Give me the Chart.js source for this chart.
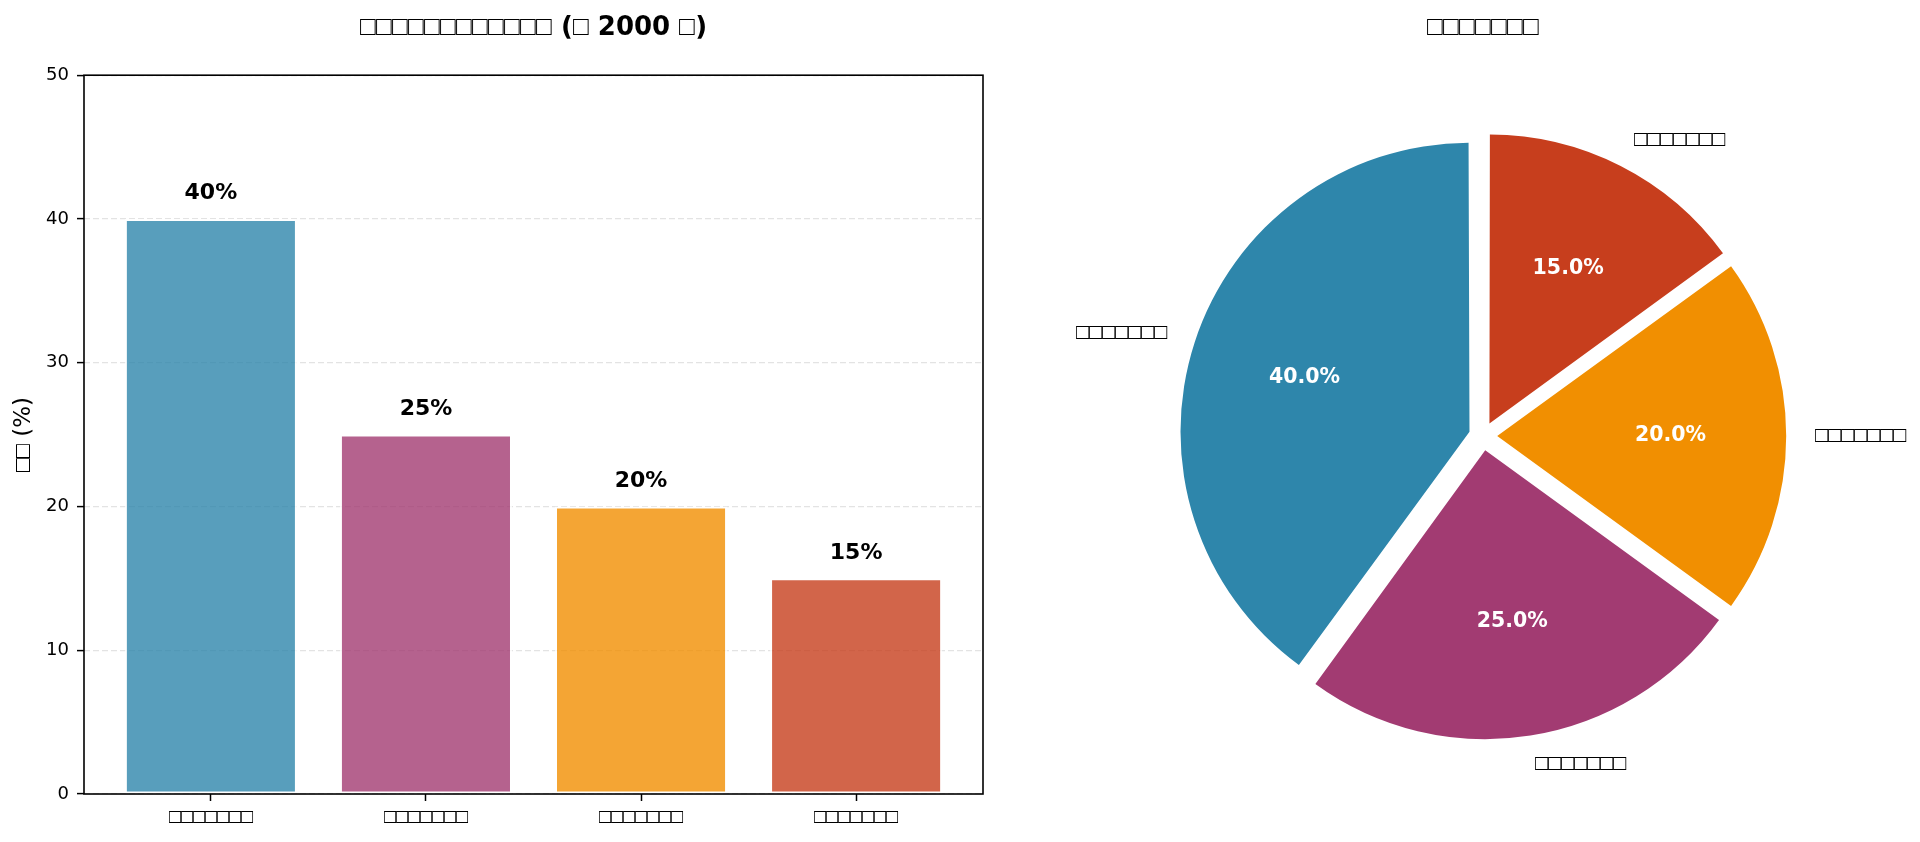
<!DOCTYPE html>
<html lang="zh">
<head>
<meta charset="utf-8">
<title>比例图</title>
<script src="https://cdn.jsdelivr.net/npm/chart.js@4.4.1/dist/chart.umd.min.js"></script>
<style>
  /* the boxes: take the narrow white square from Liberation Sans, everything else DejaVu */
  @font-face { font-family: 'Box'; src: local('Liberation Sans'), local('LiberationSans'); unicode-range: U+25A1; font-weight: normal; }
  @font-face { font-family: 'Box'; src: local('Liberation Sans Bold'), local('LiberationSans-Bold'); unicode-range: U+25A1; font-weight: bold; }
  html, body { margin: 0; padding: 0; background: #fff; }
  #wrap { position: relative; width: 1920px; height: 842px; overflow: hidden; }
  canvas { position: absolute; top: 0; }
  #bar-chart { left: 0; }
  #pie-chart { left: 1046px; }
</style>
</head>
<body>
<div id="wrap">
  <canvas id="bar-chart" width="1067" height="842"></canvas>
  <canvas id="pie-chart" width="874" height="842"></canvas>
</div>
<script>
// Data (the labels render as missing-glyph boxes there)
const categories = ['□□□□□□□', '□□□□□□□', '□□□□□□□', '□□□□□□□'];
const shares = [40, 25, 20, 15];
const yTicks = [0, 10, 20, 30, 40, 50];
const colors = ['#2E86AB', '#A23B72', '#F18F01', '#C73E1D'];
const barTitle = '□□□□□□□□□□□□ (□ 2000 □)';
const pieTitle = '□□□□□□□';
const yLabel = '□□ (%)';

const FONT = '"Box", "DejaVu Sans"';
Chart.defaults.font.family = FONT;
Chart.defaults.font.size = 18;
Chart.defaults.color = '#000';

// box round the plot area (all four spines)
const framePlugin = {
  id: 'frame',
  afterDraw(chart) {
    const { ctx, chartArea: a } = chart;
    ctx.save();
    ctx.strokeStyle = '#000';
    ctx.lineWidth = 1.6;
    ctx.strokeRect(a.left, a.top, a.right - a.left, a.bottom - a.top);
    ctx.restore();
  }
};

// "40%" etc above each bar
const barLabels = {
  id: 'barLabels',
  afterDatasetsDraw(chart) {
    const { ctx, scales: { y } } = chart;
    const meta = chart.getDatasetMeta(0);
    ctx.save();
    ctx.font = 'bold 22px ' + FONT;
    ctx.fillStyle = '#000';
    ctx.textAlign = 'center';
    ctx.textBaseline = 'bottom';
    meta.data.forEach((bar, i) => {
      ctx.fillText(shares[i] + '%', bar.x, y.getPixelForValue(shares[i] + 1));
    });
    ctx.restore();
  }
};

const barWidth = 0.8;
const xPad = (categories.length - 1 + barWidth) * 0.05;

function drawBar() {
  new Chart(document.getElementById('bar-chart'), {
    type: 'bar',
    data: {
      datasets: [{
        data: shares.map((v, i) => ({ x: i, y: v })),
        backgroundColor: colors.map(c => c + 'CC'),
        borderColor: 'rgba(255,255,255,0.8)',
        borderWidth: 2,
        borderSkipped: false,
        barPercentage: barWidth,
        categoryPercentage: 1
      }]
    },
    options: {
      responsive: false,
      animation: false,
      devicePixelRatio: 1,
      plugins: {
        legend: { display: false },
        tooltip: { enabled: false },
        title: {
          display: true,
          text: barTitle,
          font: { size: 26, weight: 'bold' },
          padding: { top: 13, bottom: 31 }
        }
      },
      scales: {
        x: {
          type: 'linear',
          offset: false,
          min: -barWidth / 2 - xPad,
          max: categories.length - 1 + barWidth / 2 + xPad,
          afterBuildTicks: s => { s.ticks = categories.map((_, i) => ({ value: i })); },
          afterFit: s => { s.height = 48; },
          ticks: {
            autoSkip: false,
            maxRotation: 0,
            padding: 5,
            font: { size: 19.5 },
            callback: v => categories[v]
          },
          grid: { offset: false, drawOnChartArea: false, tickColor: '#000', tickLength: 7, tickWidth: 1.5 },
          border: { display: false }
        },
        y: {
          min: 0,
          max: 50,
          afterBuildTicks: s => { s.ticks = yTicks.map(v => ({ value: v })); },
          afterFit: s => { s.width = 84; },
          ticks: { padding: 8 },
          title: { display: true, text: yLabel, font: { size: 23 }, padding: { top: 10.5, bottom: 0 } },
          grid: {
            color: 'rgba(176,176,176,0.35)',
            lineWidth: 1.2,
            tickColor: '#000',
            tickLength: 7,
            tickWidth: 1.5,
            tickBorderDash: []
          },
          border: { display: false, dash: [6, 3] }
        },
        // empty right-hand axis, only keeps the margin so the title stays centred over the plot
        yRight: {
          position: 'right',
          afterFit: s => { s.width = 84; },
          ticks: { display: false },
          grid: { display: false },
          border: { display: false }
        }
      }
    },
    plugins: [framePlugin, barLabels]
  });
}

// pie: matplotlib goes counter-clockwise from 12 o'clock, Chart.js clockwise,
// so feed the slices in reverse order
const pieValues = shares.slice().reverse();
const pieColors = colors.slice().reverse();
const pieNames = categories.slice().reverse();
const pieTotal = pieValues.reduce((a, b) => a + b, 0);
const pieRadius = 289;
const explodePx = 14.2;

const pieLabels = {
  id: 'pieLabels',
  afterDatasetsUpdate(chart) {
    // Chart.js grows an offset arc's radius a bit; undo that so all slices match
    chart.getDatasetMeta(0).data.forEach(arc => {
      const fix = 1 - Math.sin(Math.min(Math.PI, arc.circumference));
      arc.outerRadius -= explodePx * fix;
    });
  },
  afterDatasetsDraw(chart) {
    const { ctx } = chart;
    ctx.save();
    ctx.textBaseline = 'middle';
    chart.getDatasetMeta(0).data.forEach((arc, i) => {
      const mid = (arc.startAngle + arc.endAngle) / 2;
      const cos = Math.cos(mid), sin = Math.sin(mid);
      const cx = arc.x + cos * explodePx;
      const cy = arc.y + sin * explodePx;
      ctx.font = '21.5px ' + FONT;
      ctx.fillStyle = '#000';
      ctx.textAlign = cos > 0 ? 'left' : 'right';
      ctx.fillText(pieNames[i], cx + cos * 1.1 * pieRadius, cy + sin * 1.1 * pieRadius);
      ctx.font = 'bold 20.5px ' + FONT;
      ctx.fillStyle = '#fff';
      ctx.textAlign = 'center';
      ctx.fillText((pieValues[i] / pieTotal * 100).toFixed(1) + '%', cx + cos * 0.6 * pieRadius, cy + sin * 0.6 * pieRadius);
    });
    ctx.restore();
  }
};

function drawPie() {
  new Chart(document.getElementById('pie-chart'), {
    type: 'pie',
    data: {
      labels: pieNames,
      datasets: [{
        data: pieValues,
        backgroundColor: pieColors,
        borderWidth: 0,
        offset: explodePx * 4,
        radius: pieRadius
      }]
    },
    options: {
      responsive: false,
      animation: false,
      devicePixelRatio: 1,
      rotation: 0,
      layout: { padding: { left: 0, right: 0, top: 0, bottom: 45 } },
      plugins: {
        legend: { display: false },
        tooltip: { enabled: false },
        title: {
          display: true,
          text: pieTitle,
          font: { size: 26, weight: 'bold' },
          padding: { top: 13, bottom: 31 }
        }
      }
    },
    plugins: [pieLabels]
  });
}

Promise.all([
  document.fonts.load('20px "Box"', '□'),
  document.fonts.load('bold 20px "Box"', '□')
]).catch(() => {}).then(() => {
  drawBar();
  drawPie();
});
</script>
</body>
</html>
